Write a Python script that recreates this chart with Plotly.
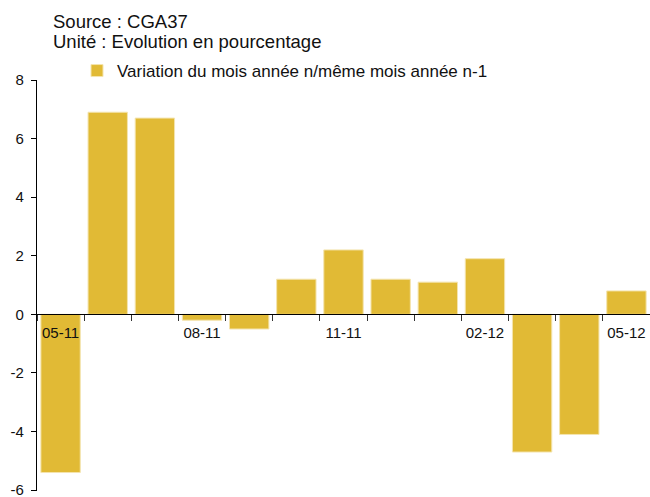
import plotly.graph_objects as go

months = ["05-11", "06-11", "07-11", "08-11", "09-11", "10-11", "11-11",
          "12-11", "01-12", "02-12", "03-12", "04-12", "05-12"]
values = [-5.4, 6.9, 6.7, -0.2, -0.5, 1.2, 2.2, 1.2, 1.1, 1.9, -4.7, -4.1, 0.8]
shown_labels = ["05-11", "08-11", "11-11", "02-12", "05-12"]
y_ticks = [-6, -4, -2, 0, 2, 4, 6, 8]
y_tick_labels = ["-6", "-4", "-2", "0", "2", "4", "6", "8"]
series_name = "Variation du mois année n/même mois année n-1"
source_text = "Source : CGA37"
unit_text = "Unité : Evolution en pourcentage"

FONT = "Arial, 'Liberation Sans', sans-serif"
BAR_COLOR = "#E1BA35"

W, H = 650, 497
ML, MR, MT, MB = 37, 0, 80, 6
plot_h = H - MT - MB
plot_w = W - ML - MR
y_min, y_max = -6.03, 8

fig = go.Figure()
fig.add_trace(go.Bar(
    x=months, y=values, name=series_name,
    marker=dict(color=BAR_COLOR, line=dict(color="#F4E4AE", width=1)),
    showlegend=True,
))

ticktext = [m if m in shown_labels else "" for m in months]

fig.update_layout(
    width=W, height=H,
    margin=dict(l=ML, r=MR, t=MT, b=MB, autoexpand=False),
    paper_bgcolor="white", plot_bgcolor="white",
    font=dict(family=FONT, color="#111111", size=15),
    bargap=0.165,
    showlegend=True,
    legend=dict(
        orientation="h",
        x=(77 - ML) / plot_w, xanchor="left",
        y=1 + (MT - 71) / plot_h, yanchor="middle",
        font=dict(size=17, family=FONT, color="#111111"),
        bgcolor="rgba(0,0,0,0)",
        itemwidth=30,
    ),
    xaxis=dict(
        type="category",
        tickmode="array", tickvals=months, ticktext=ticktext,
        tickson="boundaries", tickangle=0, automargin=False,
        ticks="outside", ticklen=6, tickcolor="#333333", tickwidth=1,
        showline=True, linecolor="black", linewidth=1.2,
        showgrid=False, zeroline=False,
        anchor="free", position=(0 - y_min) / (y_max - y_min),
        tickfont=dict(size=15, family=FONT, color="#111111"),
        ticklabelstandoff=5, ticklabeloverflow="allow",
        range=[-0.5, len(months) - 0.5],
    ),
    yaxis=dict(
        range=[y_min, y_max], automargin=False,
        tickmode="array", tickvals=y_ticks, ticktext=y_tick_labels,
        ticks="outside", ticklen=5, tickcolor="black", tickwidth=1,
        showline=True, linecolor="black", linewidth=1.2,
        showgrid=False, zeroline=False,
        tickfont=dict(size=15, family=FONT, color="#111111"),
        ticklabelstandoff=4, ticklabeloverflow="allow",
    ),
    annotations=[
        dict(text=source_text, xref="paper", yref="paper",
             x=(51 - ML) / plot_w, y=1 + (MT - 21) / plot_h,
             xanchor="left", yanchor="middle", showarrow=False,
             font=dict(size=18.5, family=FONT, color="#111111")),
        dict(text=unit_text, xref="paper", yref="paper",
             x=(51 - ML) / plot_w, y=1 + (MT - 41) / plot_h,
             xanchor="left", yanchor="middle", showarrow=False,
             font=dict(size=18.5, family=FONT, color="#111111")),
    ],
)

fig.write_html("out.html", config={"displayModeBar": False},
               post_script="document.body.style.margin='0';document.body.style.overflow='hidden';")
